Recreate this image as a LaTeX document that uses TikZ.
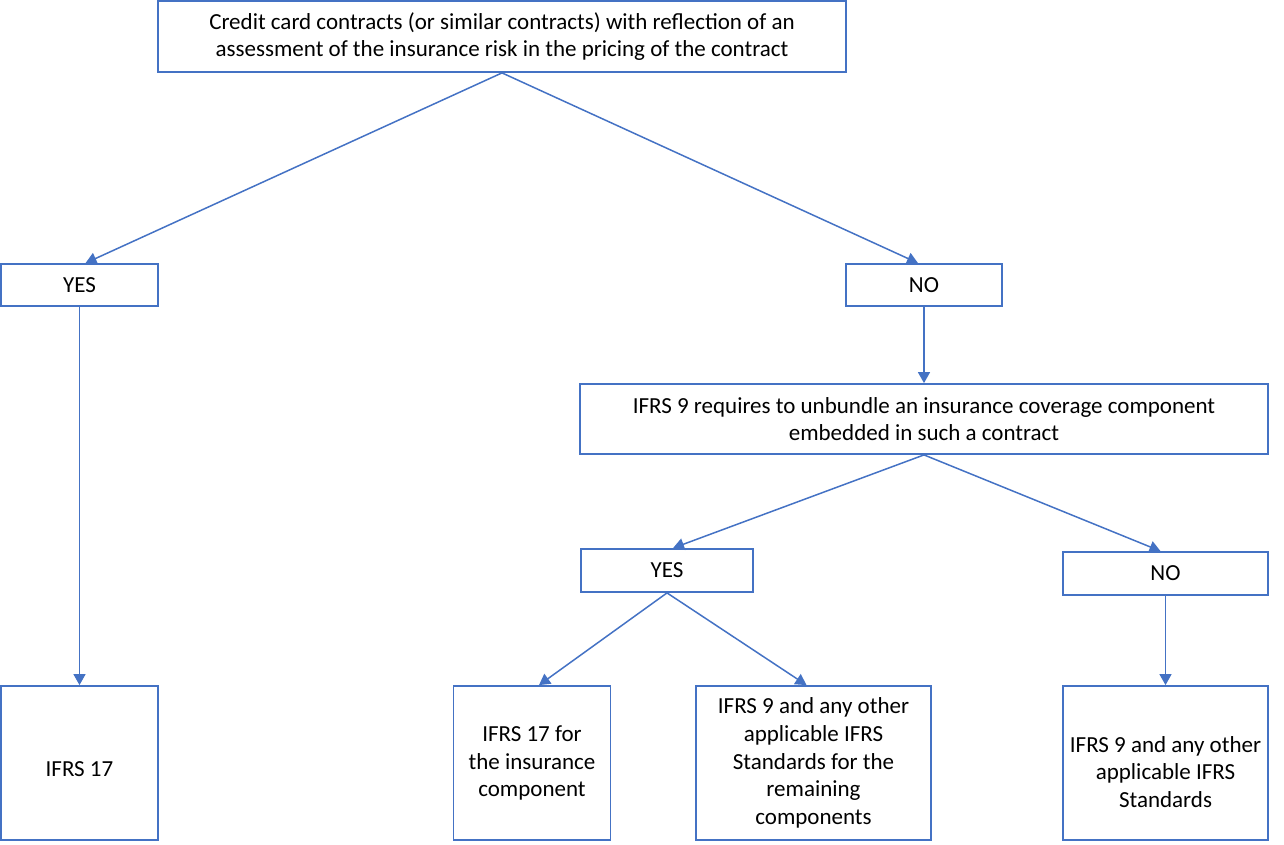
\documentclass[tikz,border=0pt]{standalone}
\usepackage{fontspec}
\setmainfont{Carlito}
\usetikzlibrary{arrows.meta}
\definecolor{ofblue}{HTML}{4472C4}
\tikzset{
  box/.style={draw=ofblue, line width=1.8pt, align=center, inner sep=0pt,
    font=\fontsize{23}{27.8}\selectfont},
  link/.style={draw=ofblue, line width=1.5pt, -{Triangle[length=11pt,width=12pt]}}
}
\begin{document}
\begin{tikzpicture}[x=1pt, y=-1pt]
\useasboundingbox (0,0) rectangle (1284,845);
% question and first split
\node[box, minimum width=688pt, minimum height=71pt] (credit) at (502,36.5)
  {Credit card contracts (or similar contracts) with reflection of an\\assessment of the insurance risk in the pricing of the contract};
\node[box, minimum width=157pt, minimum height=42pt] (yesA) at (79.5,285) {YES};
\node[box, minimum width=156pt, minimum height=42pt] (noA) at (924,285) {NO};
% unbundling question
\node[box, minimum width=688pt, minimum height=70pt] (unbundle) at (924,419)
  {IFRS 9 requires to unbundle an insurance coverage component\\embedded in such a contract};
\node[box, minimum width=172pt, minimum height=43pt] (yesB) at (667,570.5) {YES};
\node[box, minimum width=205pt, minimum height=43pt] (noB) at (1165.5,573.5) {NO};
% outcomes
\node[box, minimum width=157pt, minimum height=154pt] (ifrsA) at (79.5,763)
  {\raisebox{-6pt}[15pt][0pt]{IFRS 17}};
\node[box, minimum width=157pt, minimum height=154pt] (ifrsB) at (532,763)
  {IFRS 17 for\\the insurance\\component};
\node[box, minimum width=235pt, minimum height=154pt] (ifrsC) at (813.5,763)
  {IFRS 9 and any other\\applicable IFRS\\Standards for the\\remaining\\components};
\node[box, minimum width=205pt, minimum height=154pt] (ifrsD) at (1165.5,763)
  {\raisebox{-17.5pt}[0pt][0pt]{\begin{tabular}{@{}c@{}}IFRS 9 and any other\\applicable IFRS\\Standards\end{tabular}}};
% connectors
\draw[link] (credit.south) -- ([xshift=6pt]yesA.north);
\draw[link] (credit.south) -- ([xshift=-6pt]noA.north);
\draw[link] (yesA.south) -- (ifrsA.north);
\draw[link] (noA.south) -- (unbundle.north);
\draw[link] (unbundle.south) -- ([xshift=6pt]yesB.north);
\draw[link] (unbundle.south) -- ([xshift=-5pt]noB.north);
\draw[link] (yesB.south) -- ([xshift=7pt]ifrsB.north);
\draw[link] (yesB.south) -- ([xshift=-7pt]ifrsC.north);
\draw[link] (noB.south) -- (ifrsD.north);
\end{tikzpicture}
\end{document}
